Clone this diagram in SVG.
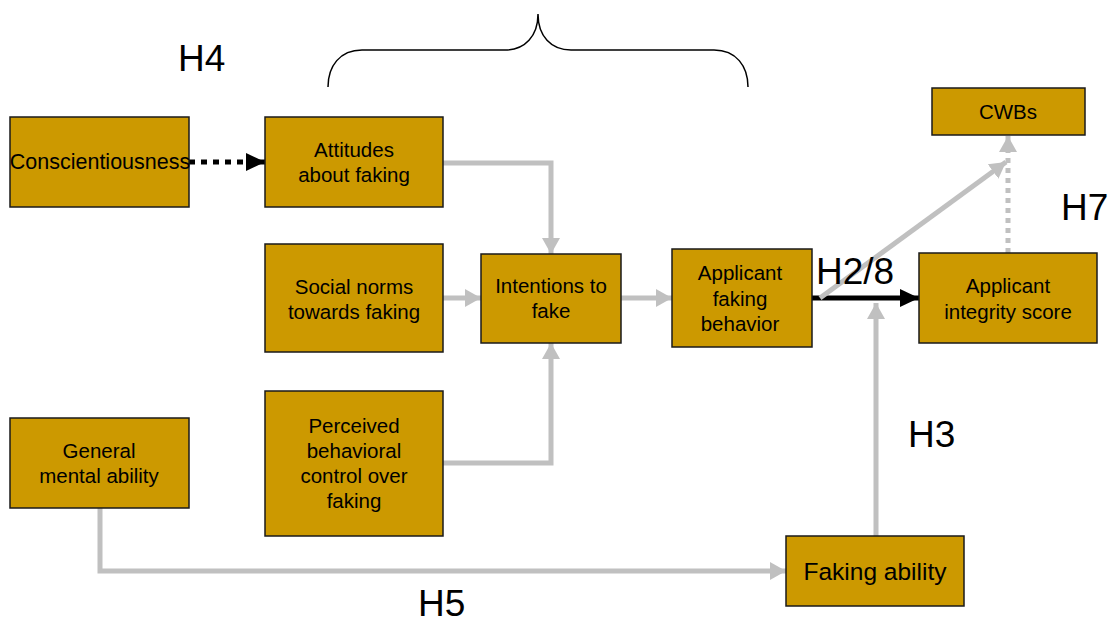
<svg xmlns="http://www.w3.org/2000/svg" width="1112" height="622" viewBox="0 0 1112 622">
<defs>
<style>
.box{fill:#CC9900;stroke:#1a1a1a;stroke-width:1.5}
.t{font-family:"Liberation Sans",Arial,sans-serif;font-size:20.5px;fill:#000;text-anchor:middle}
.h{font-family:"Liberation Sans",Arial,sans-serif;font-size:37px;fill:#000}
.g{fill:none;stroke:#C0C0C0;stroke-width:5}
.k{fill:none;stroke:#000;stroke-width:5}
</style>
<marker id="ga" markerUnits="userSpaceOnUse" markerWidth="16" markerHeight="20" viewBox="0 0 16 20" refX="16" refY="10" orient="auto"><path d="M0,1 L16,10 L0,19 Z" fill="#C0C0C0"/></marker>
<marker id="ka" markerUnits="userSpaceOnUse" markerWidth="19" markerHeight="20" viewBox="0 0 19 20" refX="19" refY="10" orient="auto"><path d="M0,1 L19,10 L0,19 Z" fill="#000"/></marker>
</defs>
<rect width="1112" height="622" fill="#fff"/>
<g id="connectors">
<path class="g" d="M443,163 H551 V254" marker-end="url(#ga)"/>
<path class="g" d="M443,298 H481" marker-end="url(#ga)"/>
<path class="g" d="M443,463 H551 V343" marker-end="url(#ga)"/>
<path class="g" d="M621,298 H672" marker-end="url(#ga)"/>
<path class="k" d="M812,298 H919" marker-end="url(#ka)"/>
<path class="g" d="M820,298 L1006,162" marker-end="url(#ga)"/>
<path class="g" d="M1008,253 V153" stroke-dasharray="5 5"/>
<path class="g" d="M1008,153 V136" marker-end="url(#ga)"/>
<path class="g" d="M876,536 V303" marker-end="url(#ga)"/>
<path class="g" d="M100,508 V571 H786" marker-end="url(#ga)"/>
<path class="k" d="M189,162 H250" stroke-dasharray="6 6"/>
<path class="k" d="M248,162 H265" marker-end="url(#ka)"/>
<path fill="none" stroke="#000" stroke-width="1.5" d="M328,87 C328,66 340,50 362,50 L505,50 C525,50 538,36 538,14 C538,36 551,50 571,50 L714,50 C736,50 748,66 748,87"/>
</g>
<g id="labels">
<text class="h" x="178" y="71">H4</text>
<text class="h" x="816" y="284">H2/8</text>
<text class="h" x="1061" y="220">H7</text>
<text class="h" x="908" y="447">H3</text>
<text class="h" x="418" y="616">H5</text>
</g>
<g id="n-consc"><rect class="box" x="10" y="117" width="179" height="90"/><text class="t" x="100" y="169" style="font-size:21.5px">Conscientiousness</text></g>
<g id="n-attitudes"><rect class="box" x="265" y="117" width="178" height="90"/><text class="t" x="354" y="157">Attitudes</text><text class="t" x="354" y="182">about faking</text></g>
<g id="n-social"><rect class="box" x="265" y="244" width="178" height="108"/><text class="t" x="354" y="294">Social norms</text><text class="t" x="354" y="319">towards faking</text></g>
<g id="n-perceived"><rect class="box" x="265" y="391" width="178" height="145"/><text class="t" x="354" y="433">Perceived</text><text class="t" x="354" y="458">behavioral</text><text class="t" x="354" y="483">control over</text><text class="t" x="354" y="508">faking</text></g>
<g id="n-gma"><rect class="box" x="10" y="418" width="179" height="90"/><text class="t" x="99" y="458">General</text><text class="t" x="99" y="483">mental ability</text></g>
<g id="n-intentions"><rect class="box" x="481" y="254" width="140" height="89"/><text class="t" x="551" y="293">Intentions to</text><text class="t" x="551" y="318">fake</text></g>
<g id="n-afb"><rect class="box" x="672" y="249" width="140" height="98"/><text class="t" x="740" y="280">Applicant</text><text class="t" x="740" y="306">faking</text><text class="t" x="740" y="331">behavior</text></g>
<g id="n-ais"><rect class="box" x="919" y="253" width="178" height="90"/><text class="t" x="1008" y="293">Applicant</text><text class="t" x="1008" y="319">integrity score</text></g>
<g id="n-cwbs"><rect class="box" x="932" y="88" width="153" height="47"/><text class="t" x="1008" y="119">CWBs</text></g>
<g id="n-fa"><rect class="box" x="786" y="536" width="178" height="70"/><text class="t" x="875" y="580" style="font-size:24.5px">Faking ability</text></g>
</svg>
